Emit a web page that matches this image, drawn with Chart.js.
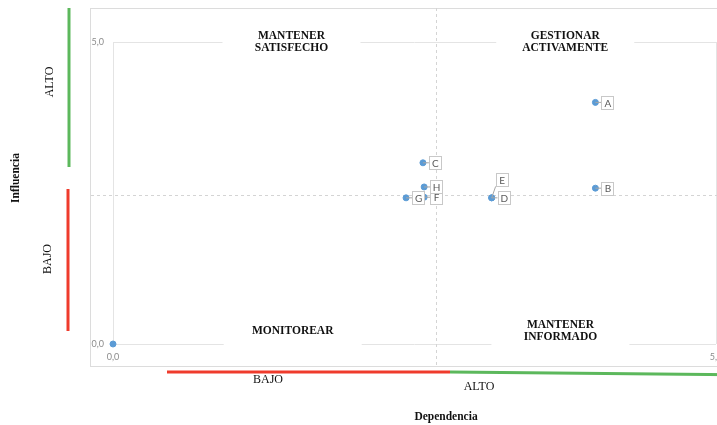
<!DOCTYPE html>
<html>
<head>
<meta charset="utf-8">
<script src="https://cdn.jsdelivr.net/npm/chart.js@4.4.1/dist/chart.umd.min.js"></script>
<style>
  html, body { margin: 0; padding: 0; background: #fff; overflow: hidden; }
  #wrap { width: 760px; height: 425px; }
</style>
</head>
<body>
<div id="wrap"><canvas id="matriz" width="760" height="425"></canvas></div>
<script>
// actores y sus puntajes (dependencia = eje x, influencia = eje y)
const actores     = ['A', 'B', 'C', 'D', 'E', 'F', 'G', 'H', ''];
const dependencia = [4.0, 4.0, 2.57, 3.14, 3.14, 2.58, 2.43, 2.58, 0];
const influencia  = [4.0, 2.58, 3.0, 2.42, 2.42, 2.43, 2.42, 2.6, 0];
const marcas = [0, 5];
const cortes = { x: 2.68, y: 2.47 };
const cuadrantes = ['MANTENER\nSATISFECHO', 'GESTIONAR\nACTIVAMENTE', 'MONITOREAR', 'MANTENER\nINFORMADO'];

const SERIF = '"Liberation Serif", "Times New Roman", serif';
const SANS = 'Lato, "Liberation Sans", sans-serif';
const fmt = v => v.toFixed(1).replace('.', ',');

// etiquetas que no van a la derecha del punto
const desplazamiento = { E: [4, -18] };

function texto(ctx, str, x, y, font, rot) {
  ctx.save();
  ctx.translate(x, y);
  if (rot) ctx.rotate(rot);
  ctx.font = font;
  ctx.fillStyle = '#111';
  ctx.textAlign = 'center';
  ctx.textBaseline = 'middle';
  ctx.fillText(str, 0, 0);
  ctx.restore();
}

function linea(ctx, x1, y1, x2, y2, color, w) {
  ctx.save();
  ctx.strokeStyle = color;
  ctx.lineWidth = w;
  ctx.beginPath();
  ctx.moveTo(x1, y1);
  ctx.lineTo(x2, y2);
  ctx.stroke();
  ctx.restore();
}

const marco = {
  id: 'marco',
  beforeDraw(chart) {
    const ctx = chart.ctx;
    ctx.save();
    ctx.strokeStyle = '#dcdcdc';
    ctx.lineWidth = 1;
    ctx.strokeRect(90.5, 8.5, 660, 358);
    ctx.restore();

    linea(ctx, 69, 8, 69, 167, '#5cb85c', 3);
    linea(ctx, 68, 189, 68, 331, '#ef3b2c', 3);
    linea(ctx, 167, 372, 450, 372, '#ef3b2c', 3);
    linea(ctx, 450, 372, 760, 375, '#5cb85c', 3);

    texto(ctx, 'ALTO', 50, 82, '12px ' + SERIF, -Math.PI / 2);
    texto(ctx, 'BAJO', 48, 259, '12px ' + SERIF, -Math.PI / 2);
    texto(ctx, 'Influencia', 16, 178, 'bold 11.5px ' + SERIF, -Math.PI / 2);
    texto(ctx, 'BAJO', 268, 380, '12px ' + SERIF);
    texto(ctx, 'ALTO', 479, 387, '12px ' + SERIF);
    texto(ctx, 'Dependencia', 446, 417, 'bold 11.5px ' + SERIF);
  },
  beforeDatasetsDraw(chart) {
    const ctx = chart.ctx;
    const { x, y } = chart.scales;
    const cx = x.getPixelForValue(cortes.x);
    const cy = y.getPixelForValue(cortes.y);

    ctx.save();
    ctx.strokeStyle = '#d4d4d4';
    ctx.lineWidth = 1;
    ctx.setLineDash([3, 3]);
    ctx.beginPath();
    ctx.moveTo(Math.round(cx) + 0.5, 8);
    ctx.lineTo(Math.round(cx) + 0.5, 366);
    ctx.moveTo(91, Math.round(cy) + 0.5);
    ctx.lineTo(760, Math.round(cy) + 0.5);
    ctx.stroke();
    ctx.restore();

    // rótulos de cuadrante con fondo blanco
    const centros = [
      [1.48, y.top], [3.75, y.top],
      [1.49, y.bottom - 13], [3.71, y.bottom - 13]
    ];
    cuadrantes.forEach((t, i) => {
      const px = x.getPixelForValue(centros[i][0]);
      const py = centros[i][1];
      ctx.fillStyle = '#fff';
      ctx.fillRect(px - 69, py - 14, 138, 30);
      const lineas = t.split('\n');
      lineas.forEach((l, k) => {
        texto(ctx, l, px, py + (k - (lineas.length - 1) / 2) * 12, 'bold 11.5px ' + SERIF);
      });
    });
  },
  afterDatasetsDraw(chart) {
    const ctx = chart.ctx;
    const meta = chart.getDatasetMeta(0);
    meta.data.forEach((pt, i) => {
      const nombre = actores[i];
      if (!nombre) return;
      const [dx, dy] = desplazamiento[nombre] || [6, 0];
      const w = 12, h = 13;
      const left = pt.x + dx, top = pt.y + dy - h / 2;
      const ty = Math.min(Math.max(pt.y, top), top + h);
      linea(ctx, pt.x, pt.y, left, ty, '#a6a6a6', 1);
      ctx.save();
      ctx.fillStyle = '#fff';
      ctx.strokeStyle = '#c8c8c8';
      ctx.lineWidth = 1;
      ctx.fillRect(left, top, w, h);
      ctx.strokeRect(Math.round(left) + 0.5, Math.round(top) + 0.5, w, h);
      ctx.font = '10px ' + SANS;
      ctx.fillStyle = '#595959';
      ctx.textAlign = 'center';
      ctx.textBaseline = 'middle';
      ctx.fillText(nombre, left + w / 2 + 0.5, top + h / 2 + 1);
      ctx.restore();
    });
  }
};

new Chart(document.getElementById('matriz'), {
  type: 'scatter',
  data: {
    datasets: [{
      data: actores.map((a, i) => ({ x: dependencia[i], y: influencia[i] })),
      backgroundColor: '#5b9bd5',
      borderColor: '#5b9bd5',
      pointRadius: 3,
      pointHoverRadius: 3,
      clip: false
    }]
  },
  options: {
    responsive: false,
    animation: false,
    events: [],
    layout: { padding: { left: 91, top: 42, right: 44, bottom: 59 } },
    plugins: { legend: { display: false }, tooltip: { enabled: false } },
    scales: {
      x: {
        type: 'linear', min: 0, max: 5,
        afterBuildTicks: s => { s.ticks = marcas.map(v => ({ value: v })); },
        afterFit: s => { s.height = 22; },
        ticks: { callback: fmt, color: '#8c8c8c', font: { family: SANS, size: 9 }, padding: 8, maxRotation: 0 },
        grid: { color: '#e4e4e4', drawTicks: false },
        border: { display: false }
      },
      y: {
        type: 'linear', min: 0, max: 5,
        afterBuildTicks: s => { s.ticks = marcas.map(v => ({ value: v })); },
        afterFit: s => { s.width = 22; },
        ticks: { callback: fmt, color: '#8c8c8c', font: { family: SANS, size: 9 }, padding: 9 },
        grid: { color: '#e4e4e4', drawTicks: false },
        border: { display: false }
      }
    }
  },
  plugins: [marco]
});
</script>
</body>
</html>
